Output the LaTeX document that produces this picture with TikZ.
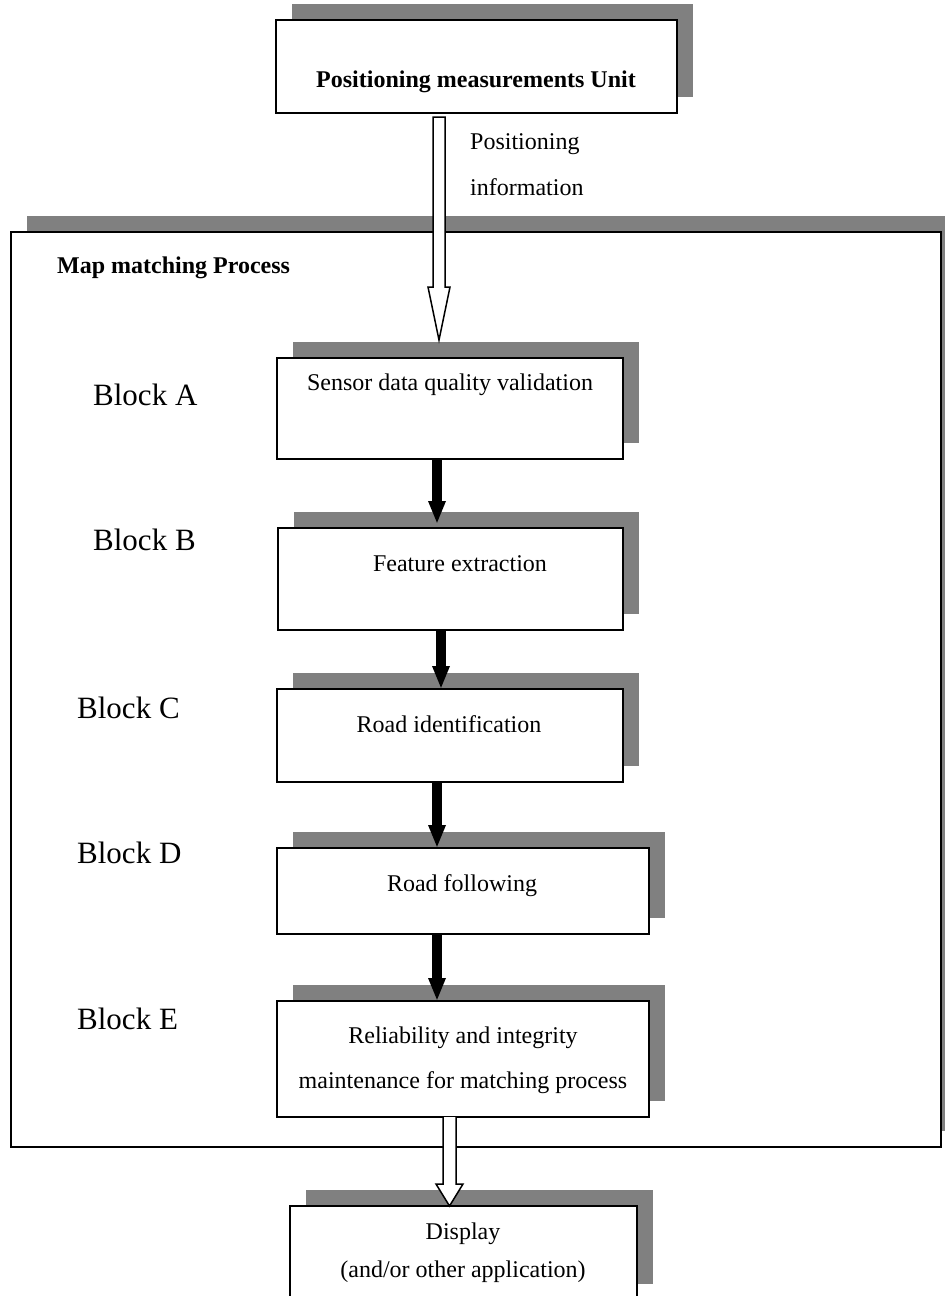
\documentclass[tikz,border=0pt]{standalone}
\usepackage{fontspec}
\setmainfont{Liberation Serif}
\usetikzlibrary{calc,arrows.meta}
\definecolor{shadowgray}{RGB}{128,128,128}
\newcommand{\shbox}[5]{%
  \fill[shadowgray] (#2+16,#3-16) rectangle (#4+16,#5-16);
  \node[box, minimum width={#4-#2}, minimum height={#5-#3}] (#1) at (#2,#3) {};
}
\begin{document}
\begin{tikzpicture}[x=1pt,y=-1pt,
  box/.style={draw=black, line width=1.8pt, fill=white, rectangle, inner sep=0pt, outer sep=0pt, anchor=north west},
  txt/.style={font=\fontsize{24}{28}\selectfont, inner sep=0pt, anchor=base},
  ltxt/.style={font=\fontsize{24}{28}\selectfont, inner sep=0pt, anchor=base west},
  blk/.style={font=\fontsize{31}{36}\selectfont, inner sep=0pt, anchor=base west},
  flow/.style={line width=10pt, -{Triangle[width=16pt,length=23pt]}},
  hollow/.style={draw=black, line width=1.5pt, fill=white, line join=miter}
]
\clip (0,0) rectangle (945,1296);
\fill[white] (0,0) rectangle (945,1296);

% outer frame
\shbox{mmp}{11}{232}{941}{1147}
% top unit
\shbox{pmu}{276}{20}{677}{113}
% blocks
\shbox{bA}{277}{358}{623}{459}
\shbox{bB}{278}{528}{623}{630}
\shbox{bC}{277}{689}{623}{782}
\shbox{bD}{277}{848}{649}{934}
\shbox{bE}{277}{1001}{649}{1117}
\shbox{disp}{290}{1206}{637}{1300}

% texts
\node[txt] (tpmu) at (476,87) {\bfseries Positioning measurements Unit};
\node[ltxt] (tinfo1) at (470,149) {Positioning};
\node[ltxt] (tinfo2) at (470,195) {information};
\node[ltxt] (tmmp) at (57,273) {\bfseries Map matching Process};
\node[txt] (tA) at (450,390) {Sensor data quality validation};
\node[txt] (tB) at (460,571) {Feature extraction};
\node[txt] (tC) at (449,732) {Road identification};
\node[txt] (tD) at (462,891) {Road following};
\node[txt] (tE1) at (463,1043) {Reliability and integrity};
\node[txt] (tE2) at (463,1088) {maintenance for matching process};
\node[txt] (tdisp1) at (463,1239) {Display};
\node[txt] (tdisp2) at (463,1277) {(and/or other application)};

\node[blk] (lA) at (93,405) {Block A};
\node[blk] (lB) at (93,550) {Block B};
\node[blk] (lC) at (77,718) {Block C};
\node[blk] (lD) at (77,863) {Block D};
\node[blk] (lE) at (77,1029) {Block E};

% solid flow arrows
\draw[flow] (bA.south -| 437,0) -- ($(bB.north -| 437,0)+(0,-4)$);
\draw[flow] (bB.south -| 441,0) -- (bC.north -| 441,0);
\draw[flow] (bC.south -| 437,0) -- (bD.north -| 437,0);
\draw[flow] (bD.south -| 437,0) -- (bE.north -| 437,0);

% hollow arrows
\coordinate (h1) at (439,340);
\draw[hollow] ($(pmu.south -| h1)+(-6,4)$) -- ($(h1)+(-6,-53)$) -- ($(h1)+(-11,-53)$) -- (h1)
  -- ($(h1)+(11,-53)$) -- ($(h1)+(6,-53)$) -- ($(pmu.south -| h1)+(6,4)$) -- cycle;
\coordinate (h2) at ($(disp.north -| 449.5,0)$);
\draw[hollow] ($(bE.south -| h2)+(-6.5,0)$) -- ($(h2)+(-6.5,-22)$) -- ($(h2)+(-13.5,-22)$) -- (h2)
  -- ($(h2)+(13.5,-22)$) -- ($(h2)+(6.5,-22)$) -- ($(bE.south -| h2)+(6.5,0)$);
\end{tikzpicture}
\end{document}
